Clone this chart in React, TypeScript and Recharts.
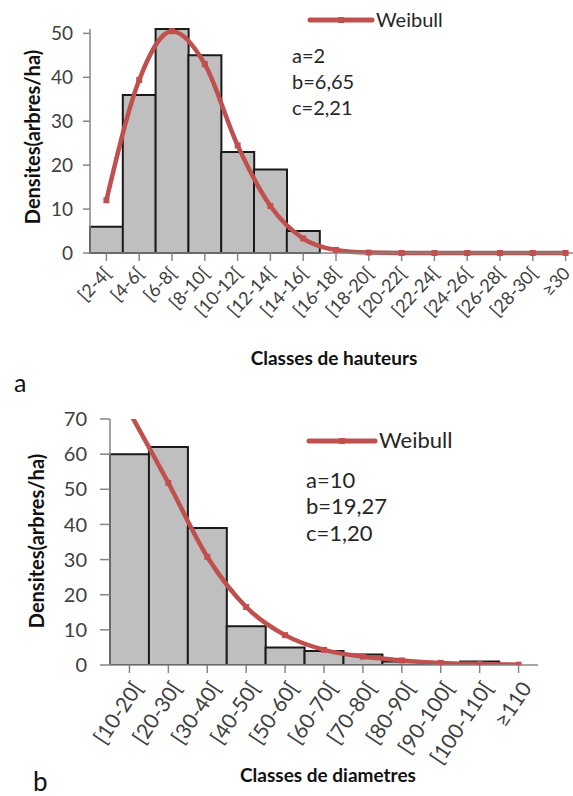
import React from 'react';
import { ComposedChart, Bar, Line, XAxis, YAxis } from 'recharts';

const FONT = 'Lato, "Open Sans", sans-serif';
const RED = '#c0504d';
const AXIS = '#868686';

// panel a : hauteurs
const heightClasses = ['[2-4[', '[4-6[', '[6-8[', '[8-10[', '[10-12[', '[12-14[', '[14-16[', '[16-18[', '[18-20[', '[20-22[', '[22-24[', '[24-26[', '[26-28[', '[28-30[', '≥30'];
const heightCounts = [6, 36, 51, 45, 23, 19, 5, 0, 0, 0, 0, 0, 0, 0, 0];
const heightWeibull = [12, 39.4, 50.5, 43, 24.5, 10.7, 3.3, 0.7, 0.1, 0, 0, 0, 0, 0, 0];
const heightTicks = [0, 10, 20, 30, 40, 50];

// panel b : diametres
const diamClasses = ['[10-20[', '[20-30[', '[30-40[', '[40-50[', '[50-60[', '[60-70[', '[70-80[', '[80-90[', '[90-100[', '[100-110[', '≥110'];
const diamCounts = [60, 62, 39, 11, 5, 4, 3, 1, 0.5, 1, 0];
const diamWeibull = [72, 51.8, 30.8, 16.5, 8.5, 4.3, 2.4, 1.3, 0.6, 0.3, 0.1];
const diamTicks = [0, 10, 20, 30, 40, 50, 60, 70];

const heightData = heightClasses.map((cls, i) => ({ cls, n: heightCounts[i], w: heightWeibull[i] }));
const diamData = diamClasses.map((cls, i) => ({ cls, n: diamCounts[i], w: diamWeibull[i] }));

const SquareDot = (props: any) => {
  const { cx, cy, index } = props;
  if (cx == null || cy == null) return null;
  return <rect key={index} x={cx - 3} y={cy - 3} width={6} height={6} fill={RED} />;
};

const makeTick = (angle: number, fontSize: number, dx: number, dy: number) => (props: any) => {
  const { x, y, payload } = props;
  return (
    <g transform={`translate(${x + dx},${y + dy})`}>
      <text x={0} y={0} dy="0.35em" transform={`rotate(${angle})`} textAnchor="end"
        fill="#404040" fontSize={fontSize} fontFamily={FONT}>
        {payload.value}
      </text>
    </g>
  );
};

const xTitle = (text: string, offY: number, shiftX: number) => (props: any) => {
  const vb = props.viewBox || {};
  return (
    <text x={vb.x + vb.width / 2 + shiftX} y={vb.y + offY} textAnchor="middle"
      fontFamily={FONT} fontWeight="bold" fontSize={19} fill="#111">
      {text}
    </text>
  );
};

const yTitle = (text: string, cx: number, cy: number) => () => (
  <text x={cx} y={cy} transform={`rotate(-90 ${cx} ${cy})`} textAnchor="middle" dy="0.35em"
    fontFamily={FONT} fontWeight="bold" fontSize={20} fill="#111">
    {text}
  </text>
);

const LegendLine = ({ x, y, len, fontSize }: any) => (
  <g>
    <line x1={x} y1={y} x2={x + len} y2={y} stroke={RED} strokeWidth={5} strokeLinecap="round" />
    <rect x={x + len / 2 - 3} y={y - 3} width={6} height={6} fill={RED} />
    <text x={x + len + 4} y={y + 7} fontFamily={FONT} fontSize={fontSize} fill="#262626">Weibull</text>
  </g>
);

export default function App() {
  return (
    <div style={{ position: 'absolute', left: 0, top: 0, width: 573, height: 796, overflow: 'hidden', background: '#fff' }}>
      <div style={{ position: 'absolute', left: 0, top: 0 }}>
        <ComposedChart width={600} height={395} data={heightData}
          margin={{ top: 29, right: 18, bottom: 0, left: 0 }} barCategoryGap={0}>
          <XAxis dataKey="cls" interval={0} height={142} tickSize={8} tickMargin={2}
            axisLine={{ stroke: AXIS, strokeWidth: 1.5 }} tickLine={{ stroke: AXIS, strokeWidth: 1.5 }}
            tick={makeTick(-47, 18, 1, 7)}
            label={xTitle('Classes de hauteurs', 112, -2)} />
          <YAxis width={90} domain={[0, 50]} ticks={heightTicks} tickSize={7} tickMargin={10}
            axisLine={{ stroke: AXIS, strokeWidth: 1.5 }} tickLine={{ stroke: AXIS, strokeWidth: 1.5 }}
            tick={{ fill: '#404040', fontSize: 19, fontFamily: FONT }}
            label={yTitle('Densites(arbres/ha)', 33, 137)} />
          <Bar dataKey="n" fill="#bfbfbf" stroke="#1a1a1a" strokeWidth={2} isAnimationActive={false} />
          <Line dataKey="w" type="monotone" stroke={RED} strokeWidth={4.5} dot={<SquareDot />}
            activeDot={false} isAnimationActive={false} />
        </ComposedChart>
      </div>
      <div style={{ position: 'absolute', left: 0, top: 400 }}>
        <ComposedChart width={573} height={396} data={diamData}
          margin={{ top: 19, right: 35, bottom: 0, left: 0 }} barCategoryGap={0}>
          <XAxis dataKey="cls" interval={0} height={131} tickSize={8} tickMargin={2}
            axisLine={{ stroke: AXIS, strokeWidth: 1.5 }} tickLine={{ stroke: AXIS, strokeWidth: 1.5 }}
            tick={makeTick(-56, 21, 8, 9)}
            label={xTitle('Classes de diametres', 117, 4)} />
          <YAxis width={110} domain={[0, 70]} ticks={diamTicks} allowDataOverflow tickSize={10} tickMargin={13}
            axisLine={{ stroke: AXIS, strokeWidth: 1.5 }} tickLine={{ stroke: AXIS, strokeWidth: 1.5 }}
            tick={{ fill: '#404040', fontSize: 20, fontFamily: FONT }}
            label={yTitle('Densites(arbres/ha)', 37, 141)} />
          <Bar dataKey="n" fill="#bfbfbf" stroke="#1a1a1a" strokeWidth={2} isAnimationActive={false} />
          <Line dataKey="w" type="monotone" stroke={RED} strokeWidth={4.5} dot={<SquareDot />}
            activeDot={false} isAnimationActive={false} />
        </ComposedChart>
      </div>
      <svg width={573} height={796} style={{ position: 'absolute', left: 0, top: 0, pointerEvents: 'none' }}>
        <LegendLine x={310} y={20} len={62} fontSize={20} />
        <g fontFamily={FONT} fontSize={20} fill="#262626">
          <text x={292} y={63}>a=2</text>
          <text x={292} y={89}>b=6,65</text>
          <text x={292} y={115}>c=2,21</text>
        </g>
        <LegendLine x={309} y={441} len={66} fontSize={22} />
        <g fontFamily={FONT} fontSize={22} fill="#262626">
          <text x={306} y={488}>a=10</text>
          <text x={306} y={514}>b=19,27</text>
          <text x={306} y={541}>c=1,20</text>
        </g>
        <text x={14} y={392} fontFamily={FONT} fontSize={25} fill="#111">a</text>
        <text x={33} y={791} fontFamily={FONT} fontSize={26} fill="#111">b</text>
      </svg>
    </div>
  );
}
